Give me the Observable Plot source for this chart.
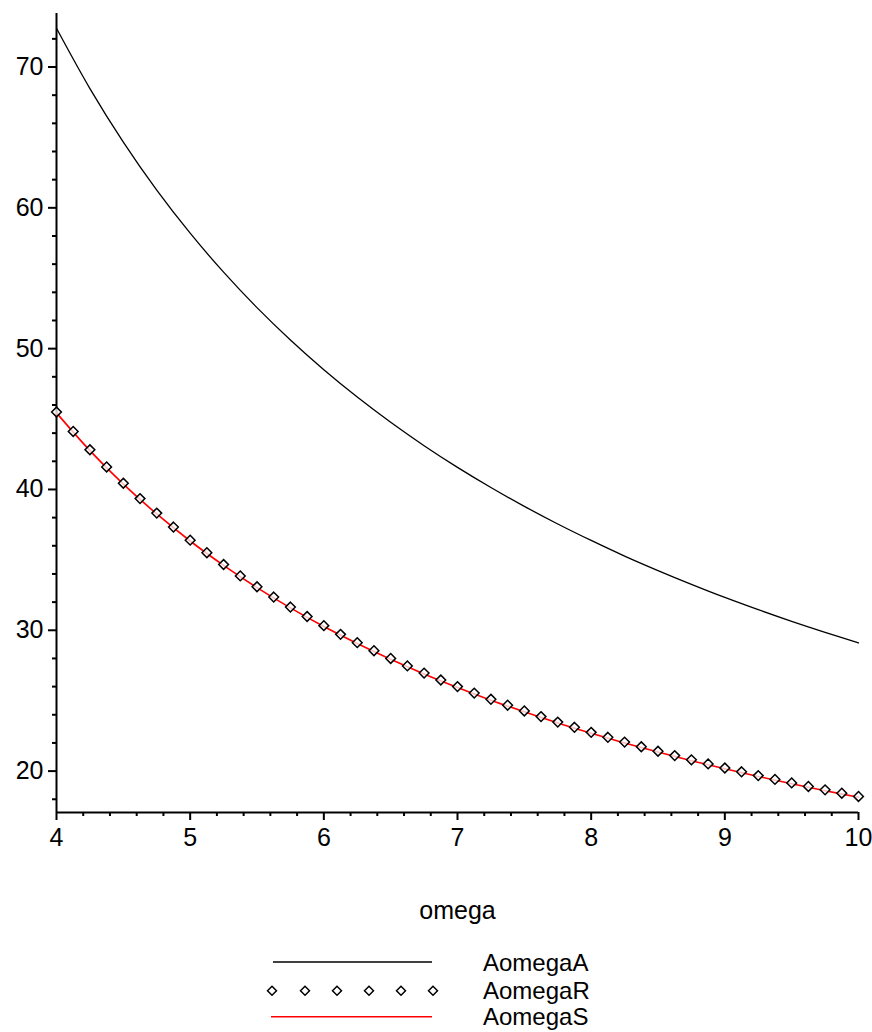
<!DOCTYPE html>
<html>
<head>
<meta charset="utf-8">
<script src="https://cdn.jsdelivr.net/npm/d3@7"></script>
<script src="https://cdn.jsdelivr.net/npm/@observablehq/plot@0.6"></script>
<style>
  body { margin: 0; background: #fff; }
  #chart svg { display: block; }
  #legend { display: block; }
</style>
</head>
<body>
<div id="chart"></div>
<div id="legend"></div>
<script>
// ---- data ----
const xTicks = [4, 5, 6, 7, 8, 9, 10];
const yTicks = [20, 30, 40, 50, 60, 70];
const xMinor = [4.2, 4.4, 4.6, 4.8, 5.2, 5.4, 5.6, 5.8, 6.2, 6.4, 6.6, 6.8, 7.2, 7.4, 7.6, 7.8, 8.2, 8.4, 8.6, 8.8, 9.2, 9.4, 9.6, 9.8];
const yMinor = [18, 22, 24, 26, 28, 32, 34, 36, 38, 42, 44, 46, 48, 52, 54, 56, 58, 62, 64, 66, 68, 72];

const omegaA = [4, 4.25, 4.5, 4.75, 5, 5.25, 5.5, 5.75, 6, 6.25, 6.5, 6.75, 7, 7.25, 7.5, 7.75, 8, 8.25, 8.5, 8.75, 9, 9.25, 9.5, 9.75, 10];
const AomegaA = [72.75, 68.47, 64.67, 61.26, 58.2, 55.43, 52.91, 50.61, 48.5, 46.56, 44.77, 43.11, 41.57, 40.14, 38.8, 37.55, 36.38, 35.27, 34.24, 33.26, 32.33, 31.46, 30.63, 29.85, 29.1];

const omegaR = [4, 4.125, 4.25, 4.375, 4.5, 4.625, 4.75, 4.875, 5, 5.125, 5.25, 5.375, 5.5, 5.625, 5.75, 5.875, 6, 6.125, 6.25, 6.375, 6.5, 6.625, 6.75, 6.875, 7, 7.125, 7.25, 7.375, 7.5, 7.625, 7.75, 7.875, 8, 8.125, 8.25, 8.375, 8.5, 8.625, 8.75, 8.875, 9, 9.125, 9.25, 9.375, 9.5, 9.625, 9.75, 9.875, 10];
const AomegaR = [45.5, 44.12, 42.82, 41.6, 40.44, 39.35, 38.32, 37.33, 36.4, 35.51, 34.67, 33.86, 33.09, 32.36, 31.65, 30.98, 30.33, 29.71, 29.12, 28.55, 28.0, 27.47, 26.96, 26.47, 26.0, 25.54, 25.1, 24.68, 24.27, 23.87, 23.48, 23.11, 22.75, 22.4, 22.06, 21.73, 21.41, 21.1, 20.8, 20.51, 20.22, 19.95, 19.68, 19.41, 19.16, 18.91, 18.67, 18.43, 18.2];

const omegaS = [4, 4.25, 4.5, 4.75, 5, 5.25, 5.5, 5.75, 6, 6.25, 6.5, 6.75, 7, 7.25, 7.5, 7.75, 8, 8.25, 8.5, 8.75, 9, 9.25, 9.5, 9.75, 10];
const AomegaS = [45.44, 42.76, 40.38, 38.26, 36.34, 34.61, 33.03, 31.59, 30.27, 29.06, 27.94, 26.9, 25.94, 25.04, 24.21, 23.42, 22.69, 22.0, 21.35, 20.74, 20.16, 19.62, 19.1, 18.61, 18.14];

const seriesNames = ["AomegaA", "AomegaR", "AomegaS"];
const seriesColors = ["#000000", "#000000", "#ff0000"];
const xLabel = "omega";
const xDomain = [4, 10];
const yDomain = [17.06, 73.8];

// ---- tables ----
const dataA = omegaA.map((x, i) => ({x, y: AomegaA[i]}));
const dataR = omegaR.map((x, i) => ({x, y: AomegaR[i]}));
const dataS = omegaS.map((x, i) => ({x, y: AomegaS[i]}));

const FONT = "'Liberation Sans', Arial, sans-serif";
const FS = 25;

const plot = Plot.plot({
  width: 872,
  height: 940,
  marginLeft: 56,
  marginRight: 14,
  marginTop: 13,
  marginBottom: 128,
  style: {fontFamily: FONT, fontSize: FS + "px", color: "#000", background: "#fff"},
  x: {domain: xDomain, label: null},
  y: {domain: yDomain, label: null},
  marks: [
    Plot.axisY(yMinor, {anchor: "left", tickSize: 4, tickFormat: () => "", label: null, strokeWidth: 2}),
    Plot.axisY(yTicks, {anchor: "left", tickSize: 8, tickPadding: 5, label: null, fontSize: FS, tickFormat: d3.format("d"), strokeWidth: 2}),
    Plot.axisX(xMinor, {anchor: "bottom", tickSize: 4, tickFormat: () => "", label: null, strokeWidth: 2}),
    Plot.axisX(xTicks, {anchor: "bottom", tickSize: 8, tickPadding: 8, label: null, fontSize: FS, tickFormat: d3.format("d"), strokeWidth: 2}),
    Plot.ruleX([xDomain[0]], {y1: yDomain[0], y2: yDomain[1], stroke: "#000", strokeWidth: 2}),
    Plot.ruleY([yDomain[0]], {x1: xDomain[0], x2: xDomain[1], stroke: "#000", strokeWidth: 2}),
    Plot.line(dataA, {x: "x", y: "y", stroke: seriesColors[0], strokeWidth: 1.3, curve: "catmull-rom"}),
    Plot.line(dataS, {x: "x", y: "y", stroke: seriesColors[2], strokeWidth: 1.6, curve: "catmull-rom"}),
    Plot.dot(dataR, {x: "x", y: "y", symbol: "diamond2", r: 4.4, stroke: seriesColors[1], strokeWidth: 1.5, fill: "white", fillOpacity: 0.75}),
    Plot.text([xLabel], {frameAnchor: "bottom", dy: 106, fontSize: FS, fill: "#000", text: d => d})
  ]
});
document.getElementById("chart").appendChild(plot);

// ---- legend below the chart ----
const leg = d3.select("#legend").append("svg").attr("width", 872).attr("height", 92);
const rows = [22, 50.7, 76.7];
const baselines = [31, 58.5, 85];
// row 1: black line
leg.append("line").attr("x1", 273).attr("x2", 432).attr("y1", rows[0]).attr("y2", rows[0])
  .attr("stroke", seriesColors[0]).attr("stroke-width", 1.5);
// row 2: diamonds
const dxs = [272, 305, 337, 369, 401, 433];
dxs.forEach(cx => {
  const r = 4.5;
  leg.append("path").attr("d", `M${cx},${rows[1]-r}L${cx+r},${rows[1]}L${cx},${rows[1]+r}L${cx-r},${rows[1]}Z`)
    .attr("fill", "white").attr("stroke", seriesColors[1]).attr("stroke-width", 1.5);
});
// row 3: red line
leg.append("line").attr("x1", 271).attr("x2", 432).attr("y1", rows[2]).attr("y2", rows[2])
  .attr("stroke", seriesColors[2]).attr("stroke-width", 1.6);
seriesNames.forEach((name, i) => {
  leg.append("text").attr("x", 483).attr("y", baselines[i]).attr("font-family", FONT)
    .attr("font-size", 24).attr("fill", "#000").text(name);
});
</script>
</body>
</html>
